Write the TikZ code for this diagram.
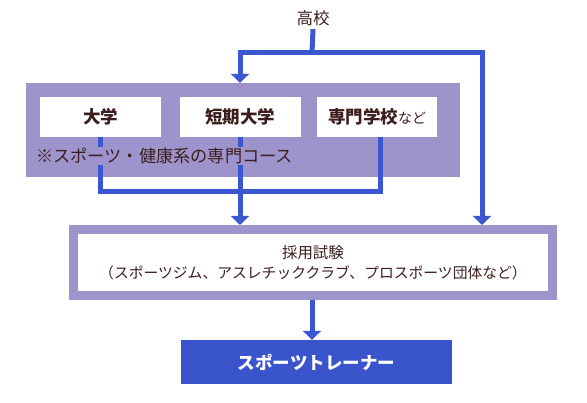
\documentclass[tikz,border=0pt]{standalone}
\usepackage{fontspec}
\setmainfont{Noto Sans CJK JP}
\usetikzlibrary{arrows.meta,positioning}
\definecolor{ink}{HTML}{3C1E1E}
\definecolor{flow}{HTML}{3A56D0}
\definecolor{lilac}{HTML}{9E94CC}
\definecolor{deep}{HTML}{3A55CC}

\tikzset{
  wbox/.style={fill=white,minimum width=121,minimum height=40,inner sep=0pt,
    font=\fontsize{17.5pt}{19pt}\selectfont\bfseries,text=ink},
  link/.style={draw=flow,line width=5,line cap=butt,line join=miter},
  linkto/.style={link,-{Triangle[width=18,length=9]}}
}

\begin{document}
\begin{tikzpicture}[x=1pt,y=-1pt,every node/.style={text=ink}]
  \useasboundingbox (0,0) rectangle (587,403);

  \node[font=\fontsize{16.5pt}{18pt}\selectfont] (hs) at (313,18) {高校};

  % schools block
  \node[fill=lilac,minimum width=434.5,minimum height=94,inner sep=0pt] (grp) at (242.75,130) {};
  \node[wbox] (univ) at (100.5,117) {大学};
  \node[wbox] (junior) at (240,117) {短期大学};
  \node[wbox,minimum width=120] (senmon) at (377,117)
    {専門学校{\fontsize{14pt}{16pt}\selectfont\mdseries など}};

  % hiring exam
  \node[draw=lilac,line width=9,fill=white,minimum width=479,minimum height=66,inner sep=0pt,
        align=center,font=\fontsize{14.8pt}{20pt}\selectfont] (exam) at (313,262.5)
    {{\fontsize{15.5pt}{20pt}\selectfont 採用試験}\\（スポーツジム、アスレチッククラブ、プロスポーツ団体など）};

  \node[fill=deep,minimum width=271,minimum height=44,inner sep=0pt,text=white,
        font=\fontsize{17.5pt}{19pt}\selectfont\bfseries] (career) at (316.5,362) {スポーツトレーナー};

  \coordinate (split) at (312,53);
  \coordinate (turn) at (482,53);
  \coordinate (merge) at (240,192);

  \draw[link] (hs.south) -- (split);
  \draw[linkto] (split) -| (junior |- grp.north);
  \draw[linkto] (split) -- (turn) -- (turn |- exam.north);

  \draw[link] (univ.south) -- (univ.south |- merge) -| ([xshift=3]senmon.south);
  \draw[linkto] (junior.south) -- (junior.south |- exam.north);

  \node[fill=lilac,inner sep=1pt,anchor=west,font=\fontsize{17.2pt}{18pt}\selectfont] (note) at (35,156)
    {※スポーツ・健康系の専門コース};

  \draw[linkto] (exam.south -| split) -- (split |- career.north);
\end{tikzpicture}
\end{document}
